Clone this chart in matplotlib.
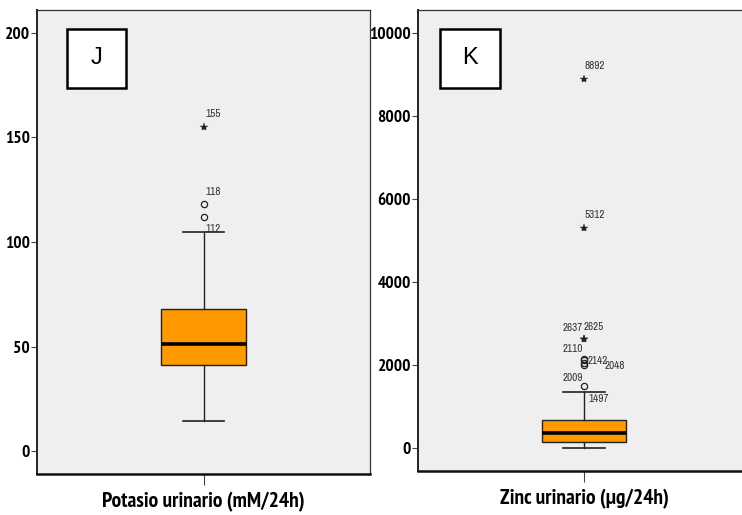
import matplotlib
matplotlib.use("Agg")
import matplotlib.pyplot as plt
from matplotlib import font_manager
from matplotlib.patches import Rectangle

fl = font_manager.fontManager.ttflist
def has_bold(name):
    return any(f.name == name and (f.weight if isinstance(f.weight, int) else 400) >= 700 for f in fl)
def pick(cands, bold=False):
    for c in cands:
        if any(f.name == c for f in fl) and (not bold or has_bold(c)):
            return c
    return "DejaVu Sans"
NARROW_B = pick(["Liberation Sans Narrow", "Arial Narrow", "Archivo Narrow", "PT Sans Narrow",
                 "Roboto Condensed", "Barlow Semi Condensed", "Open Sans Condensed"], bold=True)
NARROW = pick(["Liberation Sans Narrow", "Arial Narrow", "Archivo Narrow", "PT Sans Narrow",
               "Roboto Condensed", "Barlow Semi Condensed"])
REG = pick(["Liberation Sans", "Arimo", "DejaVu Sans"])

# ---- data ----
j_label = "Potasio urinario (mM/24h)"
j_stats = dict(q1=41.1, med=51.3, q3=68.0, whislo=14.4, whishi=104.9)
j_circles = [112, 118]
j_stars = [155]
j_out_labels = ["155", "118", "112"]
j_out_values = [155, 118, 112]
j_yticks = [0, 50, 100, 150, 200]

k_label = "Zinc urinario (µg/24h)"
k_stats = dict(q1=150, med=360, q3=675, whislo=0, whishi=1357)
k_circles = [1497, 2009, 2048, 2110, 2142]
k_stars = [2625, 2637, 5312, 8892]
k_out_labels = ["8892", "5312", "2637", "2625", "2110", "2142", "2048", "2009", "1497"]
k_out_values = [8892, 5312, 2637, 2625, 2110, 2142, 2048, 2009, 1497]
k_yticks = [0, 2000, 4000, 6000, 8000, 10000]

# ---- style: label offsets (pixels) and alignment ----
j_offsets = [(2, 13, "left"), (2, 12, "left"), (2, -12, "left")]
k_offsets = [(0, 13, "left"), (0, 13, "left"), (-1, 11, "right"), (0, 12, "left"),
             (-1, 11, "right"), (4, -2, "left"), (21, -3, "left"), (-1, -13, "right"),
             (4, -13, "left")]

W, H = 742, 515
fig = plt.figure(figsize=(W / 100, H / 100), dpi=100)
fig.patch.set_facecolor("white")

def px_axes(x0, y0, x1, y1):
    return fig.add_axes([x0 / W, 1 - y1 / H, (x1 - x0) / W, (y1 - y0) / H])

ax1 = px_axes(37, 10, 370, 474)
ax2 = px_axes(418, 10, 750, 471)

ORANGE = "#FF9900"

def draw(ax, stats, circles, stars, labels, values, offsets, yticks, ylim, xlabel):
    ax.set_facecolor("#EFEFEF")
    st = dict(stats)
    st["fliers"] = []
    ax.bxp([st], positions=[1], widths=0.505, showfliers=False, patch_artist=True,
           capwidths=0.25,
           boxprops=dict(facecolor=ORANGE, edgecolor="#222222", linewidth=1.0),
           medianprops=dict(color="black", linewidth=2.6),
           whiskerprops=dict(color="#222222", linewidth=1.0),
           capprops=dict(color="#222222", linewidth=1.2))
    ax.plot([1] * len(circles), circles, linestyle="none", marker="o", markersize=4.5,
            markerfacecolor="none", markeredgecolor="#222222", markeredgewidth=0.9)
    ax.plot([1] * len(stars), stars, linestyle="none", marker="*", markersize=6,
            color="#222222", markeredgewidth=0.3)
    for t, v, (dx, dy, ha) in zip(labels, values, offsets):
        ax.annotate(t, (1, v), xytext=(dx, dy), textcoords="offset pixels",
                    ha=ha, va="center", fontsize=8, family=NARROW, color="#333333")
    ax.set_xlim(0, 2)
    ax.set_ylim(*ylim)
    ax.set_yticks(yticks)
    ax.set_yticklabels([str(v) for v in yticks], fontsize=12.5, fontweight="bold",
                       family=NARROW_B)
    ax.set_xticks([1])
    ax.set_xticklabels([xlabel], fontsize=15.5, fontweight="bold", family=NARROW_B)
    ax.tick_params(axis="y", direction="out", length=4, width=0.8, pad=1, color="#444444")
    ax.tick_params(axis="x", direction="out", length=8, width=0.8, pad=5, color="#444444")
    for s in ["top", "right"]:
        ax.spines[s].set_color("#333333")
        ax.spines[s].set_linewidth(0.9)
    ax.spines["left"].set_color("#222222")
    ax.spines["left"].set_linewidth(1.4)
    ax.spines["bottom"].set_color("#111111")
    ax.spines["bottom"].set_linewidth(1.8)
    return ax

draw(ax1, j_stats, j_circles, j_stars, j_out_labels, j_out_values, j_offsets,
     j_yticks, (-11, 211), j_label)
draw(ax2, k_stats, k_circles, k_stars, k_out_labels, k_out_values, k_offsets,
     k_yticks, (-554, 10554), k_label)

def letter_box(ax, x0, y0, w, h, letter):
    ax.add_patch(Rectangle((x0, y0), w, h, transform=ax.transAxes, facecolor="white",
                           edgecolor="black", linewidth=1.8, zorder=5))
    ax.text(x0 + w / 2, y0 + h / 2, letter, transform=ax.transAxes, ha="center",
            va="center", fontsize=17, family=REG, zorder=6)

letter_box(ax1, 0.090, 0.832, 0.177, 0.127, "J")
letter_box(ax2, 0.066, 0.831, 0.181, 0.128, "K")

fig.savefig("out.png", dpi=100)
